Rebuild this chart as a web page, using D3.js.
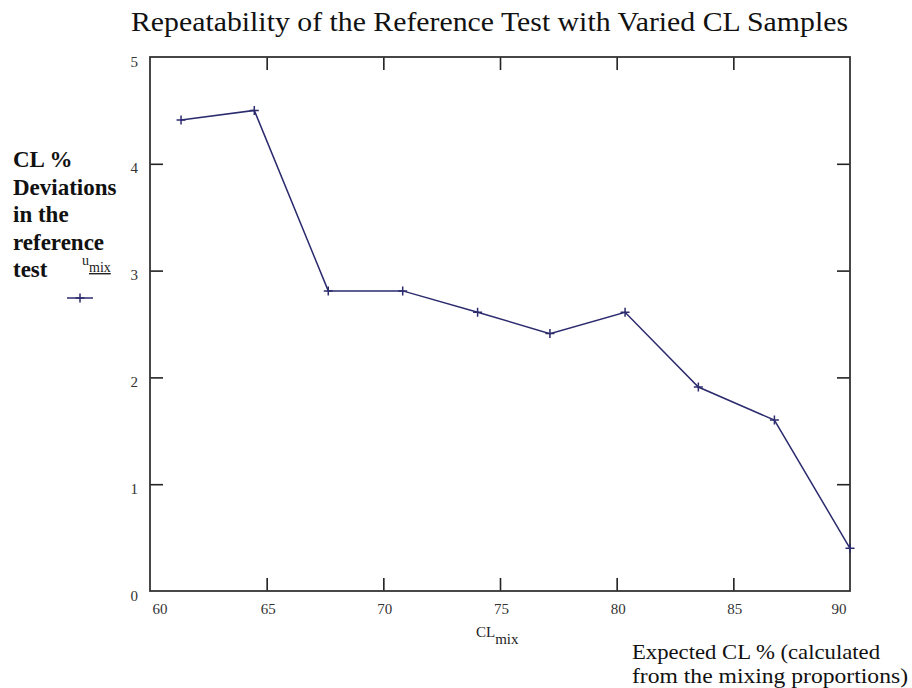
<!DOCTYPE html>
<html>
<head>
<meta charset="utf-8">
<script src="https://cdn.jsdelivr.net/npm/d3@7"></script>
<style>
  html, body { margin: 0; padding: 0; background: #fff; }
  svg { display: block; }
  text { font-family: "Liberation Serif", "Times New Roman", serif; }
</style>
</head>
<body>
<svg id="chart" width="912" height="688"></svg>
<script>
// Expected CL % of each mixed sample and the deviation found in the reference test
const clMix = [61.33, 64.47, 67.64, 70.83, 74.04, 77.14, 80.36, 83.5, 86.76, 90];
const uMix  = [4.41, 4.50, 2.81, 2.81, 2.61, 2.41, 2.61, 1.91, 1.60, 0.40];

const xTicks = [60, 65, 70, 75, 80, 85, 90];
const yTicks = [0, 1, 2, 3, 4, 5];

const titleText = "Repeatability of the Reference Test with Varied CL Samples";
const yLabelLines = ["CL %", "Deviations", "in the", "reference", "test"];
const xNoteLines = ["Expected CL % (calculated", "from the mixing proportions)"];

const svg = d3.select("#chart");
const plot = { left: 150, right: 850, top: 57, bottom: 591 };
const lineColor = "#2b2b6e";
const frameColor = "#333";
const tickLen = 13;
const serif = "'Liberation Serif', 'Times New Roman', serif";

const x = d3.scaleLinear().domain([60, 90]).range([plot.left, plot.right]);
const y = d3.scaleLinear().domain([0, 5]).range([plot.bottom, plot.top]);

// Title in a tall, slightly condensed face
svg.append("text")
  .attr("x", 131).attr("y", 31)
  .attr("font-size", 27.5).attr("fill", "#111")
  .attr("textLength", 717).attr("lengthAdjust", "spacingAndGlyphs")
  .text(titleText);

function styleAxis(g) {
  g.select(".domain").remove();
  g.selectAll(".tick line").attr("stroke", "#222").attr("stroke-width", 1.6);
  g.selectAll(".tick text")
    .attr("fill", "#333")
    .attr("font-size", 15)
    .attr("font-family", serif);
}

const inner = xTicks.filter(d => d > 60 && d < 90);
const innerY = yTicks.filter(d => d > 0 && d < 5);

// Bottom labels: first starts at the frame, last ends at it
svg.append("g")
  .attr("transform", `translate(0,${plot.bottom})`)
  .call(d3.axisBottom(x).tickValues(xTicks).tickSize(0).tickPadding(12).tickFormat(d3.format("d")))
  .call(styleAxis)
  .call(g => g.selectAll(".tick text")
    .attr("text-anchor", d => d === 60 ? "start" : d === 90 ? "end" : "middle")
    .attr("dx", d => d === 60 ? 2 : d === 90 ? -4 : 1));

// Inward ticks on all four sides
svg.append("g")
  .attr("transform", `translate(0,${plot.bottom})`)
  .call(d3.axisTop(x).tickValues(inner).tickSize(tickLen).tickFormat(""))
  .call(styleAxis);
svg.append("g")
  .attr("transform", `translate(0,${plot.top})`)
  .call(d3.axisBottom(x).tickValues(inner).tickSize(tickLen).tickFormat(""))
  .call(styleAxis);

svg.append("g")
  .attr("transform", `translate(${plot.left},0)`)
  .call(d3.axisLeft(y).tickValues(yTicks).tickSize(0).tickPadding(12).tickFormat(d3.format("d")))
  .call(styleAxis)
  .call(g => g.selectAll(".tick text").attr("dy", "0.6em"));
svg.append("g")
  .attr("transform", `translate(${plot.left},0)`)
  .call(d3.axisRight(y).tickValues(innerY).tickSize(tickLen).tickFormat(""))
  .call(styleAxis);
svg.append("g")
  .attr("transform", `translate(${plot.right},0)`)
  .call(d3.axisLeft(y).tickValues(innerY).tickSize(tickLen).tickFormat(""))
  .call(styleAxis);

// Frame
svg.append("rect")
  .attr("x", plot.left).attr("y", plot.top)
  .attr("width", plot.right - plot.left).attr("height", plot.bottom - plot.top)
  .attr("fill", "none").attr("stroke", frameColor).attr("stroke-width", 1.8);

// Data line and plus markers
const pts = clMix.map((v, i) => [v, uMix[i]]);
svg.append("path")
  .datum(pts)
  .attr("fill", "none")
  .attr("stroke", lineColor)
  .attr("stroke-width", 1.5)
  .attr("d", d3.line().x(d => x(d[0])).y(d => y(d[1])));

const plusPath = "M-4.5,0H4.5M0,-4.5V4.5";
svg.append("g").selectAll("path.m")
  .data(pts).join("path")
  .attr("class", "m")
  .attr("transform", d => `translate(${x(d[0])},${y(d[1])})`)
  .attr("d", plusPath)
  .attr("stroke", lineColor).attr("stroke-width", 1.5).attr("fill", "none");

// Y axis description
svg.append("text")
  .attr("x", 13).attr("font-weight", "bold").attr("font-size", 23).attr("fill", "#111")
  .selectAll("tspan").data(yLabelLines).join("tspan")
  .attr("x", 13)
  .attr("y", (d, i) => 167 + i * 27.6)
  .text(d => d);

// Legend: series name with a sample line
const legend = svg.append("g");
const leg = legend.append("text").attr("x", 82).attr("y", 265).attr("font-size", 14).attr("fill", "#222");
leg.append("tspan").text("u");
leg.append("tspan").attr("dy", 7).attr("text-decoration", "underline").text("mix");
legend.append("line")
  .attr("x1", 67).attr("x2", 93).attr("y1", 298).attr("y2", 298)
  .attr("stroke", lineColor).attr("stroke-width", 1.5);
legend.append("path")
  .attr("transform", "translate(80,298)")
  .attr("d", plusPath)
  .attr("stroke", lineColor).attr("stroke-width", 1.5);

// X axis name
const xl = svg.append("text").attr("x", 476).attr("y", 637).attr("font-size", 15).attr("fill", "#222");
xl.append("tspan").text("CL");
xl.append("tspan").attr("dy", 7).text("mix");

// X axis description, two lines fitted to the lower right corner
const noteWidths = [248, 276];
svg.append("text")
  .attr("font-size", 22).attr("fill", "#111")
  .selectAll("tspan").data(xNoteLines).join("tspan")
  .attr("x", 632)
  .attr("y", (d, i) => 659 + i * 24)
  .attr("textLength", (d, i) => noteWidths[i])
  .attr("lengthAdjust", "spacingAndGlyphs")
  .text(d => d);
</script>
</body>
</html>
